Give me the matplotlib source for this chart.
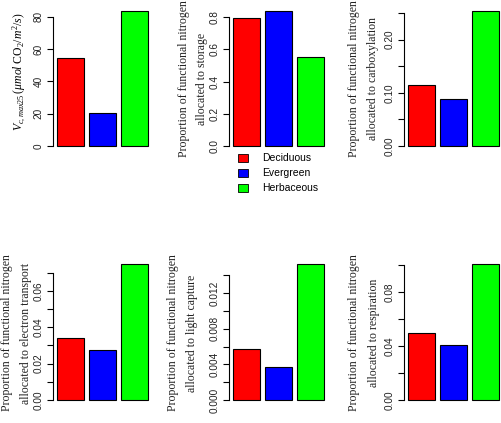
import numpy as np
import matplotlib
matplotlib.use('Agg')
import matplotlib.pyplot as plt
from matplotlib.patches import Rectangle

plt.rcParams['font.family'] = 'Liberation Sans'
plt.rcParams['mathtext.fontset'] = 'custom'
plt.rcParams['mathtext.rm'] = 'Liberation Serif'
plt.rcParams['mathtext.it'] = 'Liberation Serif:italic'

### Data

groups = ['Deciduous', 'Evergreen', 'Herbaceous']
colors = ['#FF0000', '#0000FF', '#00FF00']

vcmax25 = [54.6, 20.5, 83.7]
n_storage = [0.796, 0.839, 0.554]
n_carboxylation = [0.115, 0.0888, 0.254]
n_electron = [0.0342, 0.0275, 0.0747]
n_light = [0.0057, 0.00367, 0.01528]
n_respiration = [0.0494, 0.0405, 0.1007]

# ticks: (all ticks, labelled ticks, label format)
panels = [
    (vcmax25, np.arange(0, 81, 20), np.arange(0, 81, 20), '%d'),
    (n_storage, np.arange(0, 0.81, 0.2), np.arange(0, 0.81, 0.2), '%.1f'),
    (n_carboxylation, np.arange(0, 0.251, 0.05), [0, 0.1, 0.2], '%.2f'),
    (n_electron, np.arange(0, 0.0701, 0.01), [0, 0.02, 0.04, 0.06], '%.2f'),
    (n_light, np.arange(0, 0.01401, 0.002), [0, 0.004, 0.008, 0.012], '%.3f'),
    (n_respiration, np.arange(0, 0.1001, 0.02), [0, 0.04, 0.08], '%.2f'),
]

ylab1 = r'$V_{c,max25}\,(\mu mol\ \mathrm{CO_2}/m^2/s)$'
ylabs = [
    ['Proportion of functional nitrogen', 'allocated to storage'],
    ['Proportion of functional nitrogen', 'allocated to carboxylation'],
    ['Proportion of functional nitrogen', 'allocated to electron transport'],
    ['Proportion of functional nitrogen', 'allocated to light capture'],
    ['Proportion of functional nitrogen', 'allocated to respiration'],
]

W, H = 502, 423
fig = plt.figure(figsize=(W / 100, H / 100), dpi=100)

lefts = [53.4, 229.4, 404.4]
width = 98.4
rows = [(5.5, 151.4), (258.6, 405.4)]
# x centres of ylabel lines (px)
lab_x = [[19], [183.7, 202.5], [353.7, 373.5], [7, 26.3], [173, 192.2], [354, 374]]
lab_y = [72, 79, 79, 333, 333, 333]

xpos = np.array([0.7, 1.9, 3.1])
for k, (vals, ticks, labelled, fmt) in enumerate(panels):
    r, c = divmod(k, 3)
    top, bot = rows[r]
    ax = fig.add_axes([lefts[c] / W, 1 - bot / H, width / W, (bot - top) / H])
    ax.bar(xpos, vals, width=1.0, color=colors, edgecolor='black', linewidth=0.8)
    m = max(vals)
    ax.set_xlim(0.064, 3.736)
    ax.set_ylim(-0.04 * m, 1.04 * m)
    for s in ['top', 'right', 'bottom']:
        ax.spines[s].set_visible(False)
    ax.spines['left'].set_bounds(0, ticks[-1])
    ax.spines['left'].set_linewidth(0.8)
    ax.set_xticks([])
    ax.set_yticks(ticks)
    ax.set_yticklabels([fmt % t if any(abs(t - l) < 1e-9 for l in labelled) else ''
                        for t in ticks])
    ax.tick_params(axis='y', length=4.1, width=0.8, pad=2.9, labelsize=7.2)
    for lab in ax.get_yticklabels():
        lab.set_rotation(90)
        lab.set_va('center')
        lab.set_color('#222222')
    # y labels
    if k == 0:
        fig.text(lab_x[0][0] / W, 1 - lab_y[0] / H, ylab1, rotation=90,
                 ha='center', va='center', fontsize=8.5)
    else:
        for x, txt in zip(lab_x[k], ylabs[k - 1]):
            fig.text(x / W, 1 - lab_y[k] / H, txt, rotation=90, ha='center',
                     va='center', fontsize=8.5, family='Liberation Serif',
                     color='#222222')

# Legend below storage panel
for i, (g, col) in enumerate(zip(groups, colors)):
    yc = 158 + 15 * i
    fig.patches.append(Rectangle((237.7 / W, 1 - (yc + 3.7) / H), 10.6 / W, 7.4 / H,
                                 transform=fig.transFigure, facecolor=col,
                                 edgecolor='black', linewidth=0.6))
    fig.text(262.3 / W, 1 - yc / H, g, ha='left', va='center', fontsize=7.5)

fig.savefig('out.png', dpi=100)
